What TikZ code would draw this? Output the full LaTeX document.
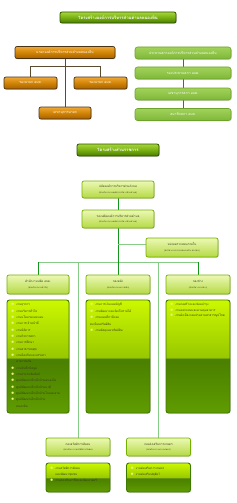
\documentclass[tikz,border=0pt]{standalone}
\usepackage{fontspec}
\newfontfamily\thai[Script=Thai]{Loma}
\usetikzlibrary{shadows,backgrounds}
\definecolor{ttltop}{HTML}{A6D63A}
\definecolor{ttlmid}{HTML}{78B012}
\definecolor{ttlbot}{HTML}{4A7C00}
\definecolor{ttlbrd}{HTML}{2D5200}
\definecolor{otop}{HTML}{F0A838}
\definecolor{omid}{HTML}{D08404}
\definecolor{obot}{HTML}{A86000}
\definecolor{obrd}{HTML}{4B3414}
\definecolor{gtop}{HTML}{A2D25A}
\definecolor{gbot}{HTML}{7EB83A}
\definecolor{gbrd}{HTML}{6DA32A}
\definecolor{htop}{HTML}{ECF8B4}
\definecolor{hbot}{HTML}{B4DA44}
\definecolor{hbrd}{HTML}{74B000}
\definecolor{htext}{HTML}{3A3A1A}
\definecolor{lbrd}{HTML}{3F7A00}
\definecolor{lsA}{HTML}{5F9C00}
\definecolor{lsB}{HTML}{4A7F00}
\definecolor{lsC}{HTML}{98C800}
\definecolor{lsD}{HTML}{CCF800}
\definecolor{brline}{HTML}{5A4A30}
\definecolor{rline}{HTML}{4F6B3A}
\definecolor{dkg}{HTML}{14961E}
\definecolor{ltg}{HTML}{86CC86}
\definecolor{bul}{HTML}{E8F080}
\pgfdeclareverticalshading{listshade}{100bp}{color(0bp)=(lsA); color(25bp)=(lsA); color(49bp)=(lsB); color(49.6bp)=(lsC); color(75bp)=(lsD); color(100bp)=(lsD)}
\newcommand\bli{\makebox[5.5pt][l]{\textcolor{bul}{$\scriptscriptstyle\bullet$}}}
\newcommand\cli{\makebox[5.5pt][l]{}}
\begin{document}
\begin{tikzpicture}[x=1pt,y=-1pt,
  base/.style={rounded corners=2pt, inner sep=0pt, align=center},
  shad/.style={drop shadow={opacity=0.3, shadow xshift=0.8pt, shadow yshift=-0.8pt}},
  ttl/.style={base, shad, draw=ttlbrd, line width=0.8pt, top color=ttltop, bottom color=ttlbot, middle color=ttlmid, text=white,
    font=\thai\fontsize{4.2}{5}\selectfont\bfseries, minimum height=11pt},
  orng/.style={base, shad, draw=obrd, line width=0.7pt, top color=otop, bottom color=obot, middle color=omid, text=white,
    font=\thai\fontsize{3.4}{4}\selectfont, minimum height=12pt},
  grn/.style={base, shad, rounded corners=2.5pt, draw=gbrd, line width=0.6pt, top color=gtop, bottom color=gbot, text=white,
    font=\thai\fontsize{3.4}{4}\selectfont, minimum height=12pt, minimum width=96pt},
  hdr/.style={base, shad, draw=hbrd, line width=0.7pt, top color=htop, bottom color=hbot, text=htext,
    font=\thai\fontsize{3}{4}\selectfont},
  lst/.style={shad, draw=lbrd, line width=0.9pt, rounded corners=2.5pt, shading=listshade, inner sep=0pt},
  lsttxt/.style={anchor=north west, inner sep=0pt, align=left, text=htext},
  brl/.style={draw=brline, line width=0.8pt},
  rl/.style={draw=rline, line width=0.8pt},
  dk/.style={draw=dkg, line width=0.9pt},
  lt/.style={draw=ltg, line width=0.8pt},
]
\useasboundingbox (0,0) rectangle (237,503);

% ---- top chart ----
\node[ttl, minimum width=116pt] (t1) at (118,17.5) {โครงสร้างองค์การบริหารส่วนตำบลหนองหิน};

\node[orng, minimum width=100pt] (nayok) at (65,52.5) {นายกองค์การบริหารส่วนตำบลหนองหิน};
\node[orng, minimum width=53pt] (rong1) at (30.5,83) {รองนายก อบต.};
\node[orng, minimum width=53pt] (rong2) at (100.5,83) {รองนายก อบต.};
\node[orng, minimum width=52pt] (lekha) at (65,113) {เลขานุการนายก};
\coordinate (jl) at (65,66.7);

\node[grn] (prathan) at (183,53) {ประธานสภาองค์การบริหารส่วนตำบลหนองหิน};
\node[grn] (rongpr) at (183,73) {รองประธานสภา อบต.};
\node[grn] (lekhas) at (183,94) {เลขานุการสภา อบต.};
\node[grn] (samachik) at (183,114.5) {สมาชิกสภา อบต.};

\begin{scope}[on background layer]
\draw[brl] (nayok.south) -- (lekha.north);
\draw[brl] (rong1.north) |- (jl) -| (rong2.north);
\draw[rl] (prathan.south) -- (rongpr.north);
\draw[rl] (rongpr.south) -- (lekhas.north);
\draw[rl] (lekhas.south) -- (samachik.north);
\end{scope}

% ---- second chart ----
\node[ttl, minimum width=82pt, minimum height=12pt] (t2) at (118,150) {โครงสร้างส่วนราชการ};

\node[hdr, minimum width=72pt, minimum height=17pt] (palat) at (118,189.5)
  {ปลัดองค์การบริหารส่วนตำบล\\[1.5pt]{\fontsize{2.2}{3}\selectfont(นักบริหารงานองค์การบริหารส่วนตำบล)}};
\node[hdr, minimum width=72pt, minimum height=18pt] (rongpalat) at (118,219)
  {รองปลัดองค์การบริหารส่วนตำบล\\[1.5pt]{\fontsize{2.2}{3}\selectfont(นักบริหารงานองค์การบริหารส่วนตำบล)}};
\node[hdr, minimum width=72pt, minimum height=19pt] (audit) at (182,247.5)
  {หน่วยตรวจสอบภายใน\\[1.5pt]{\fontsize{2.2}{3}\selectfont(นักวิชาการตรวจสอบภายใน ปก./ชก.)}};

\node[hdr, minimum width=62pt, minimum height=19pt] (d1) at (38,284.5)
  {สำนักงานปลัด อบต.\\[1.5pt]{\fontsize{2.2}{3}\selectfont(นักบริหารงานทั่วไป)}};
\node[hdr, minimum width=64pt, minimum height=19pt] (d2) at (118,284.5)
  {กองคลัง\\[1.5pt]{\fontsize{2.2}{3}\selectfont(นักบริหารงานการคลัง)}};
\node[hdr, minimum width=64pt, minimum height=19pt] (d3) at (198,284.5)
  {กองช่าง\\[1.5pt]{\fontsize{2.2}{3}\selectfont(นักบริหารงานช่าง)}};

\node[lst, minimum width=62pt, minimum height=113pt] (l1) at (38,356.5) {};
\node[lst, minimum width=64pt, minimum height=113pt] (l2) at (118,356.5) {};
\node[lst, minimum width=64pt, minimum height=113pt] (l3) at (198,356.5) {};

\node[lsttxt, font=\thai\fontsize{3}{6.35}\selectfont] (l1t) at ([shift={(4,3.5)}]l1.north west)
 {\bli งานธุรการ\\ \bli งานบริหารทั่วไป\\ \bli งานนโยบายและแผน\\ \bli งานการเจ้าหน้าที่\\ \bli งานนิติการ\\
  \bli งานกิจการสภา\\ \bli งานการศึกษา\\ \bli งานสาธารณสุข\\ \bli งานป้องกันและบรรเทา\\ \cli สาธารณภัย\\
  \bli งานบันทึกข้อมูล\\ \bli งานประชาสัมพันธ์\\ \bli ศูนย์พัฒนาเด็กเล็กบ้านหนองไผ่\\ \bli ศูนย์พัฒนาเด็กเล็กบ้านนาดี\\
  \bli ศูนย์พัฒนาเด็กเล็กบ้านโนนสะอาด\\ \bli ศูนย์พัฒนาเด็กเล็กบ้าน\\ \cli หนองหิน};
\node[lsttxt, font=\thai\fontsize{3}{6.5}\selectfont] (l2t) at ([shift={(4,3.5)}]l2.north west)
 {\bli งานการเงินและบัญชี\\ \bli งานพัฒนาและจัดเก็บรายได้\\ \bli งานแผนที่ภาษีและ\\ ทะเบียนทรัพย์สิน\\ \bli งานพัสดุและทรัพย์สิน};
\node[lsttxt, font=\thai\fontsize{3}{5.6}\selectfont] (l3t) at ([shift={(4,3.5)}]l3.north west)
 {\bli งานก่อสร้างและซ่อมบำรุง\\ \bli งานออกแบบและควบคุมอาคาร\\ \bli งานผังเมืองและประสานสาธารณูปโภค};

\node[hdr, minimum width=64pt, minimum height=18pt] (b1) at (78,447)
  {กองสวัสดิการสังคม\\[1.5pt]{\fontsize{2.2}{3}\selectfont(นักบริหารงานสวัสดิการสังคม)}};
\node[hdr, minimum width=64pt, minimum height=18pt] (b2) at (158.5,447)
  {กองส่งเสริมการเกษตร\\[1.5pt]{\fontsize{2.2}{3}\selectfont(นักบริหารงานการเกษตร)}};
\node[lst, minimum width=64pt, minimum height=29pt] (bl1) at (78,477.5) {};
\node[lst, minimum width=64pt, minimum height=29pt] (bl2) at (158.5,477.5) {};
\node[lsttxt, font=\thai\fontsize{3}{5.7}\selectfont] (bl1t) at ([shift={(4,4.5)}]bl1.north west)
 {\bli งานสวัสดิการสังคม\\ \cli และพัฒนาชุมชน\\ \bli งานส่งเสริมอาชีพและพัฒนาสตรี};
\node[lsttxt, font=\thai\fontsize{3}{5.7}\selectfont] (bl2t) at ([shift={(4,4.5)}]bl2.north west)
 {\bli งานส่งเสริมการเกษตร\\ \bli งานส่งเสริมปศุสัตว์};

\coordinate (ja) at (118,244);
\coordinate (bus) at (118,262);
\begin{scope}[on background layer]
\draw[dk] (palat.south) -- (rongpalat.north);
\draw[dk] (rongpalat.south) -- (bus);
\draw[lt] (ja) -- (ja -| audit.west);
\draw[lt] (bus -| d1.north) -- (bus -| d3.north);
\draw[dk] (bus -| d1.north) -- (d1.north);
\draw[dk] (bus) -- (d2.north);
\draw[dk] (bus -| d3.north) -- (d3.north);
\draw[lt] (bus -| b1.north) -- (b1.north);
\draw[lt] (bus -| b2.north) -- (b2.north);
\end{scope}
\end{tikzpicture}
\end{document}
